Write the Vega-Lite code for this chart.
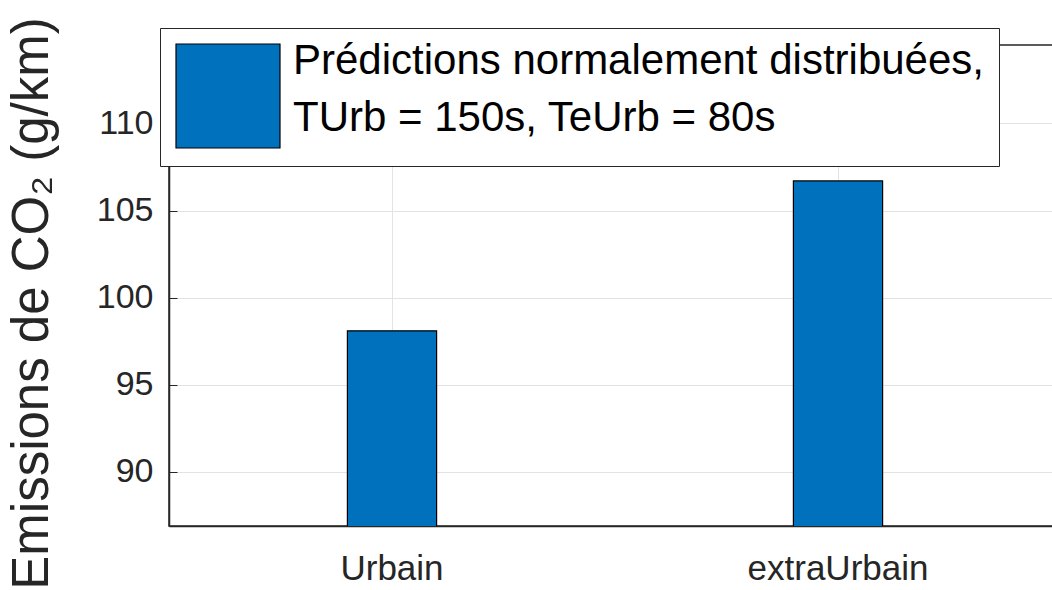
{
  "$schema": "https://vega.github.io/schema/vega-lite/v6.json",
  "width": 892,
  "height": 481,
  "autosize": "none",
  "padding": {"left": 169, "top": 45, "right": 0, "bottom": 64},
  "background": "white",
  "config": {
    "font": "Liberation Sans",
    "view": {"stroke": "#262626", "strokeWidth": 1.5},
    "axis": {
      "domainColor": "#262626",
      "domainWidth": 1.5,
      "tickColor": "#262626",
      "gridColor": "#e3e3e3",
      "gridWidth": 1,
      "labelColor": "#262626",
      "titleColor": "#262626",
      "labelFont": "Liberation Sans",
      "titleFont": "Liberation Sans"
    }
  },
  "data": {
    "values": [
      {"categorie": "Urbain", "emissions": 98.1, "serie": "pred"},
      {"categorie": "extraUrbain", "emissions": 106.7, "serie": "pred"}
    ]
  },
  "mark": {"type": "bar", "stroke": "#000000", "strokeWidth": 1.2, "clip": true},
  "encoding": {
    "x": {
      "field": "categorie",
      "type": "nominal",
      "sort": ["Urbain", "extraUrbain"],
      "scale": {"paddingInner": 0.8, "paddingOuter": 0.4},
      "axis": {
        "title": null,
        "labelAngle": 0,
        "labelFontSize": 35,
        "labelPadding": 33,
        "labelLimit": 0,
        "tickSize": -8,
        "grid": true,
        "bandPosition": 0.5
      }
    },
    "y": {
      "field": "emissions",
      "type": "quantitative",
      "scale": {"domain": [86.9, 114.5], "zero": false, "nice": false},
      "axis": {
        "title": "Emissions de CO₂ (g/km)",
        "titleFontSize": 51,
        "titleFontWeight": "normal",
        "titlePadding": 38,
        "titleY": 258,
        "values": [90, 95, 100, 105, 110],
        "labelFontSize": 34,
        "labelPadding": 24,
        "tickSize": -8,
        "grid": true
      }
    },
    "color": {
      "field": "serie",
      "type": "nominal",
      "scale": {"range": ["#0072BD"]},
      "legend": {
        "title": null,
        "orient": "none",
        "legendX": -9,
        "legendY": -17,
        "padding": 15,
        "strokeColor": "#262626",
        "fillColor": "white",
        "symbolType": "square",
        "symbolSize": 10816,
        "symbolStrokeColor": "#000000",
        "symbolStrokeWidth": 1.2,
        "symbolOpacity": 1,
        "labelFontSize": 42,
        "labelColor": "#000000",
        "labelOffset": 12,
        "labelLimit": 0,
        "labelExpr": "['Prédictions normalement distribuées,', '\u00a0\u00a0TUrb = 150s, TeUrb = 80s']",
        "encode": {"labels": {"update": {"lineHeight": {"value": 57}, "dy": {"value": -35}}}}
      }
    }
  }
}
